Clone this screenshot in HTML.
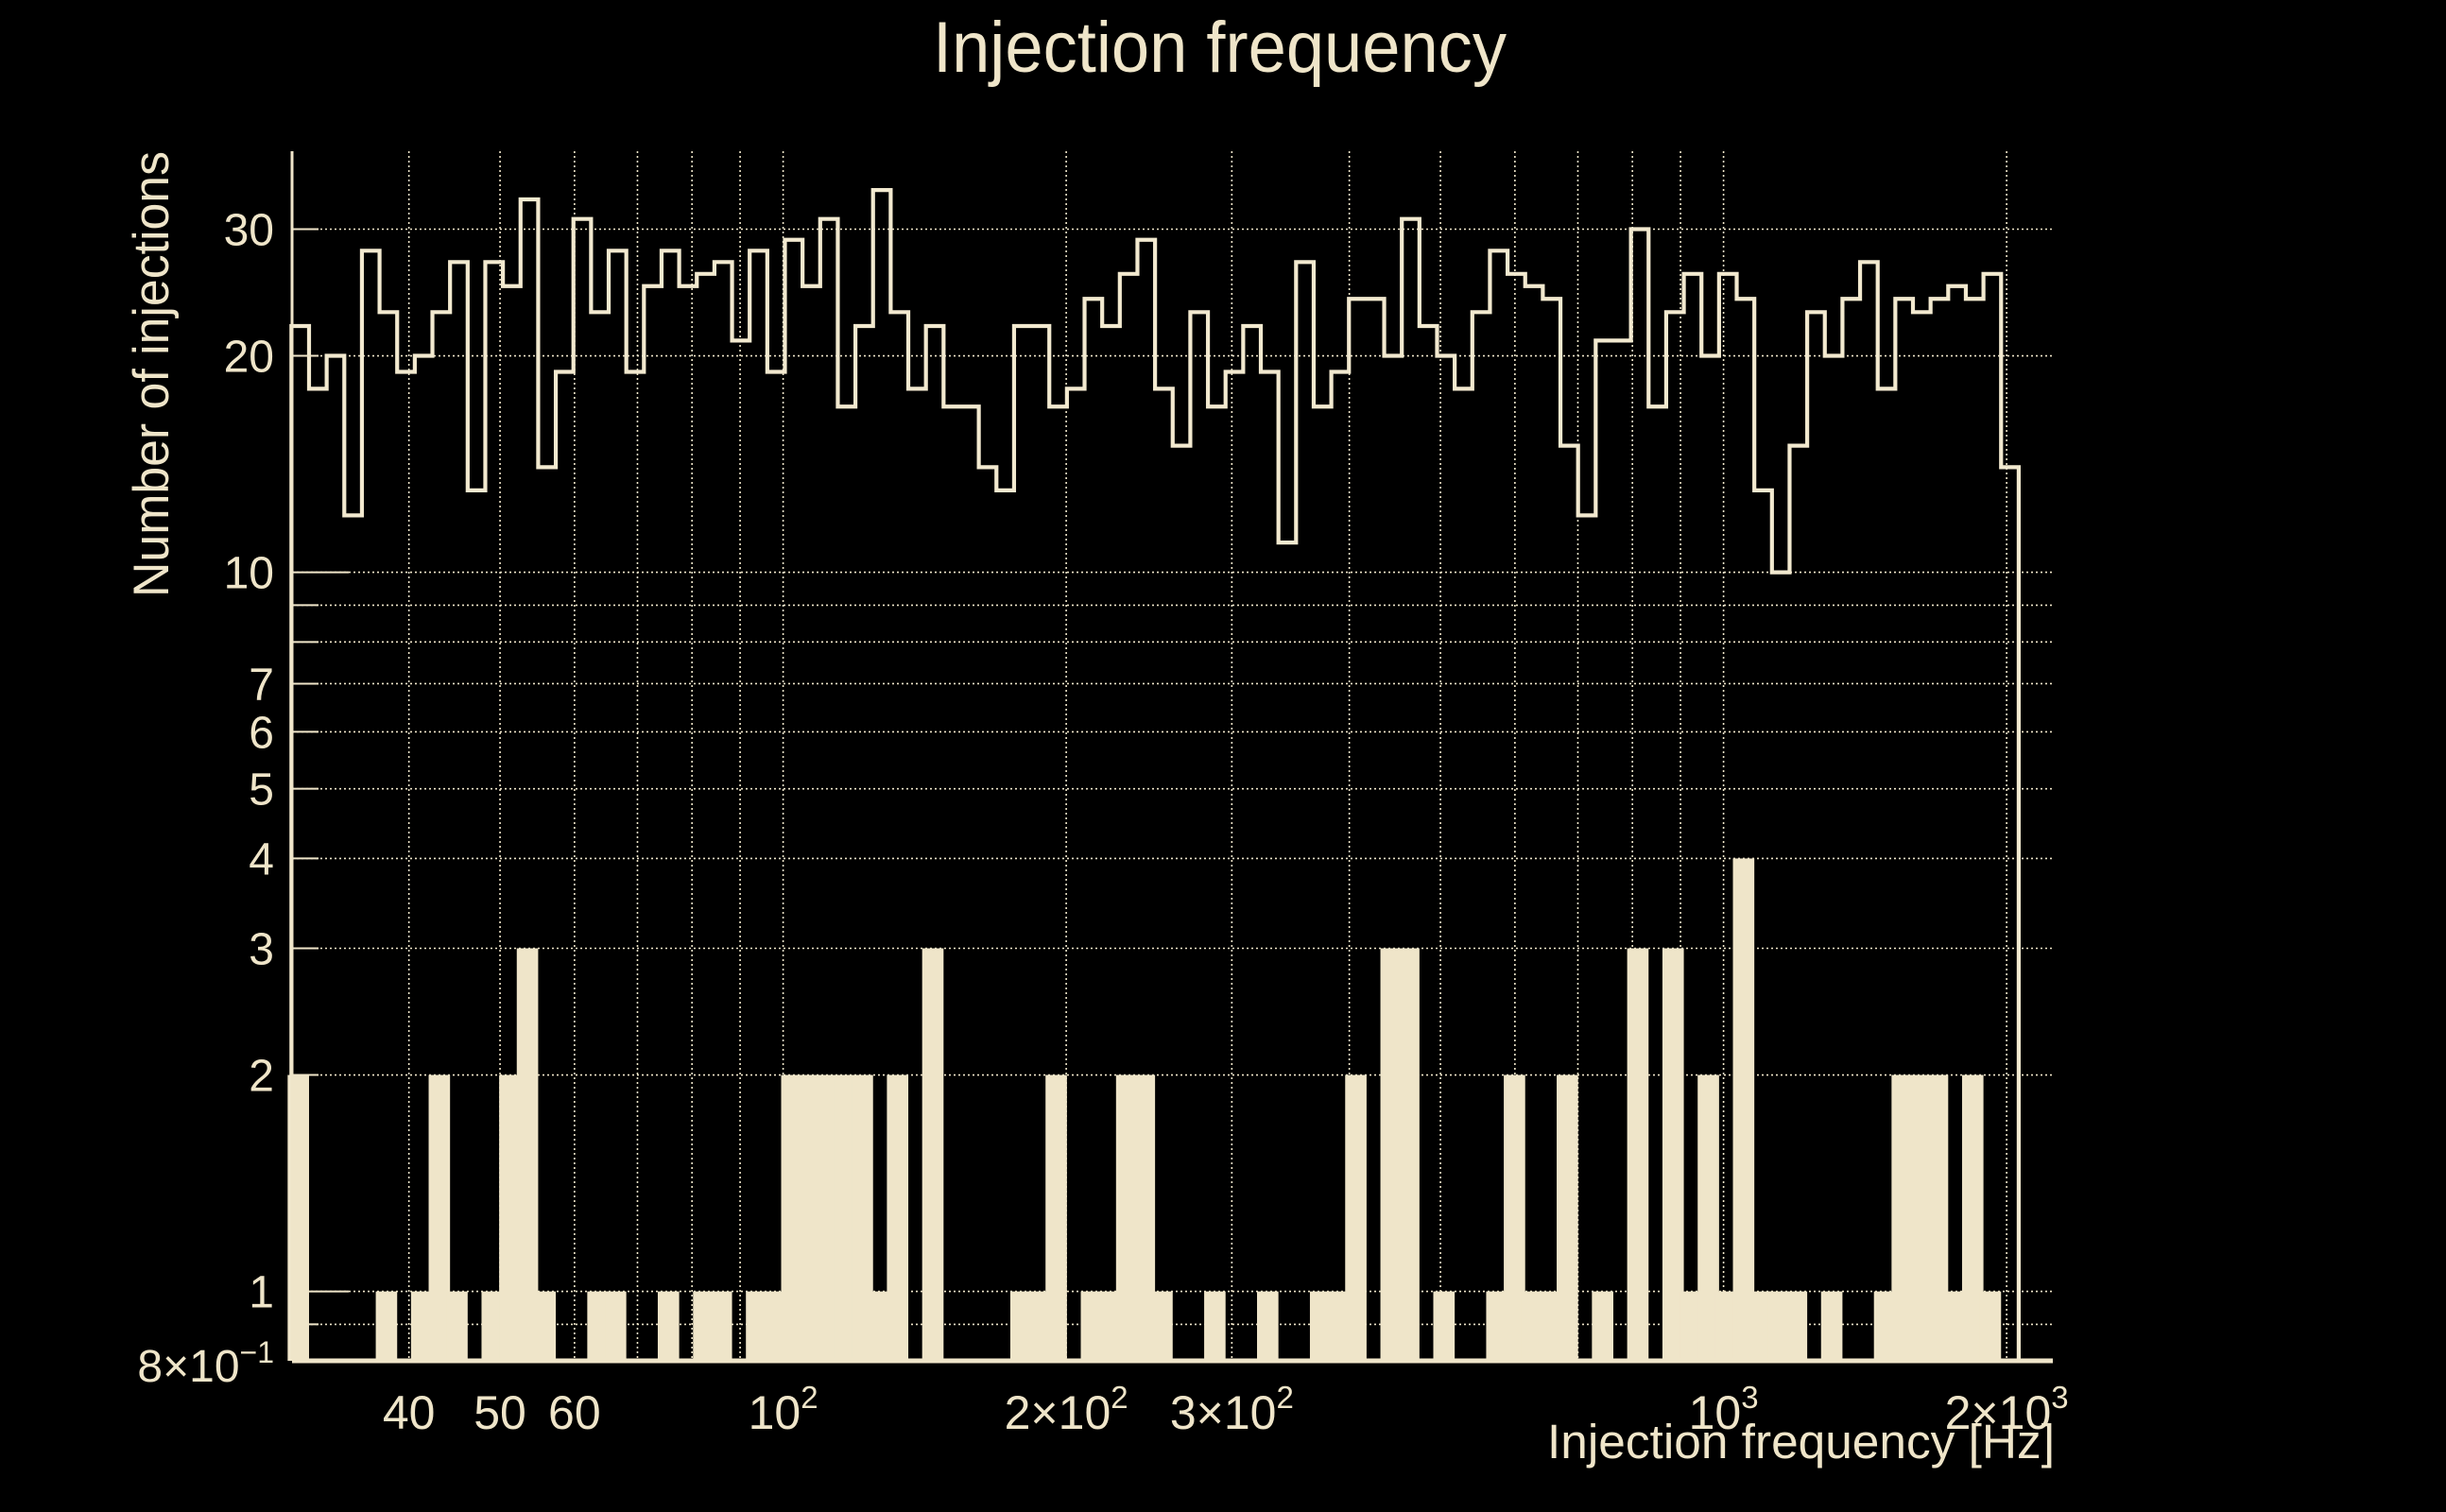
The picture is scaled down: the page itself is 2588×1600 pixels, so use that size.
<!DOCTYPE html>
<html><head><meta charset="utf-8"><title>Injection frequency</title>
<style>
html,body{margin:0;padding:0;background:#000;}
svg{display:block;}
text{font-family:"Liberation Sans",sans-serif;fill:#efe5c9;}
</style></head>
<body>
<svg id="chart" xmlns="http://www.w3.org/2000/svg" width="2588" height="1600" viewBox="0 0 2588 1600">
<rect x="0" y="0" width="2588" height="1600" fill="#000"/>
<text x="987" y="76" font-size="76" textLength="607" lengthAdjust="spacingAndGlyphs">Injection frequency</text>
<text transform="translate(178,396) rotate(-90)" text-anchor="middle" font-size="53" textLength="472" lengthAdjust="spacingAndGlyphs">Number of injections</text>
<text x="1637" y="1543" font-size="51" textLength="537" lengthAdjust="spacingAndGlyphs">Injection frequency [Hz]</text>
<g id="grid"></g>
<g id="bars"></g>
<g id="steps"></g>
<g id="axes"></g>
<g id="labels"></g>
</svg>
<script>
// ---- data ----
const binLo = 30;
const binHi = 2060;
const topCounts = [22,18,20,12,28,23,19,20,23,27,13,27,25,33,14,19,31,23,28,19,25,28,25,26,27,21,28,19,29,25,31,17,22,34,
23,18,22,17,17,14,13,22,22,17,18,24,22,26,29,18,15,23,17,19,22,19,11,27,17,19,24,24,20,31,22,20,18,23,
28,26,25,24,15,12,21,21,30,17,23,26,20,26,24,13,10,15,23,20,24,27,18,24,23,24,25,24,26,14];
const bottomCounts = [2,0,0,0,0,1,0,1,2,1,0,1,2,3,1,0,0,1,1,0,0,1,0,1,1,0,1,1,2,2,2,2,2,1,
2,0,3,0,0,0,0,1,1,2,0,1,1,2,2,1,0,0,1,0,0,1,0,0,1,1,2,0,3,3,0,1,0,0,
1,2,1,1,2,0,1,0,3,0,3,1,2,1,4,1,1,1,0,1,0,0,1,2,2,2,1,2,1,0];
const yGridValues = [0.9,1,2,3,4,5,6,7,8,9,10,20,30];
const yTickValues = [30,20,10,7,6,5,4,3,2,1];
const yTickLabels = ["30","20","10","7","6","5","4","3","2","1"];
const xGridValues = [40,50,60,70,80,90,100,200,300,400,500,600,700,800,900,1000,2000];
const xTickValues = [40,50,60,100,200,300,1000,2000];
const xTickMant = ["40","50","60","","2×","3×","","2×"];
const xTickExp = ["","","","2","2","2","3","3"];

// ---- scales ----
const PL = 309, PR = 2172, PT = 160, PB = 1440;
function xPix(f){ return 828.6 + (Math.log10(f) - 2) * 995; }
function yPix(v){ return 605.6 - (Math.log10(v) - 1) * 761; }
const NS = "http://www.w3.org/2000/svg";
const C = "#efe5c9";
function mk(tag, attrs, parent){
  const e = document.createElementNS(NS, tag);
  for (const k in attrs) e.setAttribute(k, attrs[k]);
  parent.appendChild(e);
  return e;
}
const grid = document.getElementById("grid");
const bars = document.getElementById("bars");
const steps = document.getElementById("steps");
const axes = document.getElementById("axes");
const labels = document.getElementById("labels");

// grid
yGridValues.forEach(v => {
  const y = yPix(v);
  const l = mk("line", {x1:PL, x2:PR, y1:y, y2:y, stroke:C, "stroke-width":1.6, "stroke-dasharray":"2 3"}, grid);
  
  
});
xGridValues.forEach(v => {
  const x = xPix(v);
  const l = mk("line", {x1:x, x2:x, y1:PT, y2:PB, stroke:C, "stroke-width":1.6, "stroke-dasharray":"2 3"}, grid);
  
  
});

// bin edges (log spaced)
const nb = topCounts.length;
const lLo = Math.log10(binLo), lHi = Math.log10(binHi);
function edge(i){ return Math.pow(10, lLo + (lHi - lLo) * i / nb); }

// filled histogram
bottomCounts.forEach((c, i) => {
  if (c <= 0) return;
  const x0 = xPix(edge(i)) - 4, x1 = xPix(edge(i + 1));
  const y = yPix(c);
  const r = mk("rect", {x:x0, y:y, width:x1 - x0, height:PB - y, fill:C}, bars);
  
  
});

// step histogram
let d = "M" + xPix(edge(0)) + " " + PB;
topCounts.forEach((c, i) => {
  const y = yPix(c);
  d += " L" + xPix(edge(i)) + " " + y + " L" + xPix(edge(i + 1)) + " " + y;
});
d += " L" + xPix(edge(nb)) + " " + PB;
const sp = mk("path", {d:d, fill:"none", stroke:"#f2e9cf", "stroke-width":4.2, "stroke-linejoin":"miter"}, steps);



// axes
const ya = mk("line", {x1:PL, x2:PL, y1:PT, y2:PB, stroke:C, "stroke-width":3}, axes);


const xa = mk("line", {x1:PL, x2:PR, y1:PB, y2:PB, stroke:C, "stroke-width":5}, axes);


yGridValues.forEach(v => {
  const y = yPix(v);
  const len = (v === 1 || v === 10) ? 60 : 28;
  const t = mk("line", {x1:PL, x2:PL + len, y1:y, y2:y, stroke:C, "stroke-width":2}, axes);
  
  
});

// y tick labels
yTickValues.forEach((v, i) => {
  const t = mk("text", {x:290, y:yPix(v) + 17, "font-size":48, "text-anchor":"end"}, labels);
  t.textContent = yTickLabels[i];
  
  
});
const yb = mk("text", {x:290, y:1462, "font-size":48, "text-anchor":"end"}, labels);


yb.innerHTML = '8×10<tspan font-size="32" dy="-20">−1</tspan>';

// x tick labels
xTickValues.forEach((v, i) => {
  const t = mk("text", {x:xPix(v), y:1512, "font-size":50, "text-anchor":"middle"}, labels);
  
  
  if (xTickExp[i] === "") {
    t.textContent = xTickMant[i];
  } else {
    t.innerHTML = xTickMant[i] + '10<tspan font-size="33" dy="-22">' + xTickExp[i] + '</tspan>';
  }
});
</script>
</body></html>
